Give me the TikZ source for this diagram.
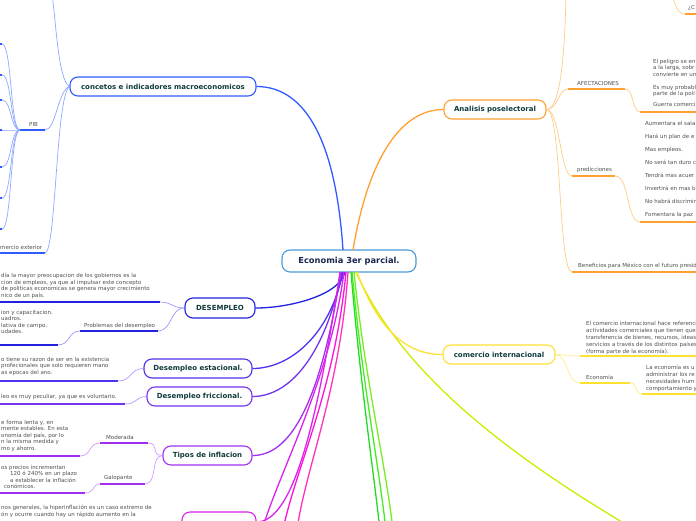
\documentclass[tikz,border=0pt]{standalone}
\usepackage{fontspec}
\setmainfont{DejaVu Sans}
\definecolor{ttext}{HTML}{0F3B3B}
\definecolor{ctext}{HTML}{1A2550}
\definecolor{tgrey}{HTML}{505050}
\definecolor{cborder}{HTML}{4A9AD8}
\definecolor{cblue}{HTML}{2F5BFF}
\definecolor{lblue}{HTML}{8FA8FF}
\definecolor{cdes}{HTML}{2222E0}
\definecolor{ldes}{HTML}{9A9AFF}
\definecolor{cest}{HTML}{4A33EE}
\definecolor{cfri}{HTML}{7433EE}
\definecolor{lpur}{HTML}{B89AFF}
\definecolor{ctip}{HTML}{A030F0}
\definecolor{ltip}{HTML}{D49AFF}
\definecolor{cmag}{HTML}{DD22EE}
\definecolor{cmag2}{HTML}{FF11DD}
\definecolor{cmag3}{HTML}{FF33BB}
\definecolor{cgr1}{HTML}{22DD22}
\definecolor{cgr2}{HTML}{44EE22}
\definecolor{cgr3}{HTML}{77EE22}
\definecolor{cyg}{HTML}{CCEE00}
\definecolor{cyel}{HTML}{FFE033}
\definecolor{lyel}{HTML}{FFEE88}
\definecolor{cora}{HTML}{FFA030}
\definecolor{lora}{HTML}{FFCC88}
\begin{document}
\begin{tikzpicture}[x=1pt,y=-1pt,
  tbox/.style={draw=#1, rounded corners=8pt, line width=1.1pt, fill=white, text=ttext,
    font=\fontsize{7}{8}\selectfont\bfseries, inner sep=0pt, minimum height=19pt},
  para/.style={font=\fontsize{5.5}{6.5}\selectfont, text=tgrey, inner sep=0pt, align=left, anchor=north west},
  lbl/.style={font=\fontsize{5.5}{6.5}\selectfont, text=tgrey, inner sep=0pt, anchor=west},
  mainline/.style={draw=#1, line width=1.3pt},
  subline/.style={draw=#1, line width=0.7pt},
  uline/.style={draw=#1, line width=1.5pt}]
\useasboundingbox (0,0) rectangle (696,520);
\clip (0,0) rectangle (696,520);
\fill[white] (0,0) rectangle (696,520);

% ---------- central and branch boxes ----------
\node[tbox=cborder, text=ctext, minimum width=134pt, minimum height=22pt, font=\fontsize{8.3}{9}\selectfont\bfseries] (center) at (349,261) {Economia 3er parcial.};
\node[tbox=cblue, minimum width=186pt] (concetos) at (163,86.5) {concetos e indicadores macroeconomicos};
\node[tbox=cdes, minimum width=70pt, minimum height=20pt] (desempleo) at (220,308) {DESEMPLEO};
\node[tbox=cest, minimum width=108pt] (estacional) at (198,368.5) {Desempleo estacional.};
\node[tbox=cfri, minimum width=105pt] (friccional) at (199.5,396.5) {Desempleo friccional.};
\node[tbox=ctip, minimum width=89pt] (tipos) at (207.5,455.5) {Tipos de inflacion};
\node[tbox=cmag, minimum width=74pt, minimum height=20pt] (hiper) at (219,522) {};
\node[tbox=cora, minimum width=102pt] (analisis) at (495,109.5) {Analisis poselectoral};
\node[tbox=cyel, minimum width=112pt] (comercio) at (499,354.5) {comercio internacional};

% ---------- connectors from the centre ----------
\coordinate (ct1) at (343,250);
\coordinate (ct2) at (353,250);
\draw[mainline=cblue] (ct1) .. controls (335,130) and (300,86.5) .. (concetos.east);
\draw[mainline=cora] (ct2) .. controls (368,160) and (400,109.5) .. (analisis.west);
\coordinate (cb1) at (345,272);
\coordinate (cb2) at (343,272);
\coordinate (cb3) at (342,272);
\coordinate (cb4) at (341,272);
\coordinate (cb5) at (340,272);
\coordinate (cb6) at (344,272);
\coordinate (cb7) at (346,272);
\coordinate (cb8) at (348,272);
\coordinate (cb9) at (351,272);
\coordinate (cb10) at (352,272);
\coordinate (cb11) at (354,272);
\coordinate (cb12) at (356,272);
\coordinate (cb13) at (357,272);
\draw[mainline=cdes] (cb1) .. controls (340,295) and (290,308) .. (desempleo.east);
\draw[mainline=cest] (cb2) .. controls (330,335) and (290,368.5) .. (estacional.east);
\draw[mainline=cfri] (cb3) .. controls (325,355) and (290,396.5) .. (friccional.east);
\draw[mainline=ctip] (cb4) .. controls (320,405) and (290,455.5) .. (tipos.east);
\draw[mainline=cmag] (cb5) .. controls (315,440) and (290,522) .. (hiper.east);
\coordinate (m1) at (262,530);
\coordinate (m2) at (283,530);
\coordinate (m3) at (297,530);
\draw[mainline=cmag] (cb6) .. controls (330,380) and (280,470) .. (m1);
\draw[mainline=cmag2] (cb7) .. controls (335,390) and (295,470) .. (m2);
\draw[mainline=cmag3] (cb8) .. controls (340,390) and (305,470) .. (m3);
\coordinate (g1) at (380,530);
\coordinate (g2) at (386,530);
\coordinate (g3) at (393,530);
\draw[mainline=cgr1] (cb9) .. controls (360,380) and (372,460) .. (g1);
\draw[mainline=cgr2] (cb10) .. controls (362,380) and (378,460) .. (g2);
\draw[mainline=cgr3] (cb11) .. controls (365,380) and (385,460) .. (g3);
\coordinate (yg) at (632,528);
\draw[mainline=cyg] (cb12) .. controls (400,370) and (500,450) .. (yg);
\draw[mainline=cyel] (cb13) .. controls (380,335) and (410,354.5) .. (comercio.west);

% ---------- concetos branch ----------
\coordinate (topL) at (52,-5);
\draw[subline=lblue] (concetos.west) .. controls (58,80) and (56,20) .. (topL);
\coordinate (pibR) at (45,130);
\coordinate (pibL) at (20,130);
\node[lbl] (pib) at (29,124) {PIB};
\draw[subline=lblue] (concetos.west) .. controls (58,90) and (56,130) .. (pibR);
\draw[uline=cblue] (pibL) -- (pibR);
\foreach \yy in {44,75,100,130,167,198,229}{
  \coordinate (pc\yy) at (2,\yy);
  \draw[subline=lblue] (pibL) .. controls (10,130) and (12,\yy) .. (pc\yy);
  \draw[uline=cblue] (pc\yy) -- ++(-12,0);
}
\coordinate (ceR) at (45,253);
\coordinate (ceL) at (-5,253);
\node[lbl] (comext) at (0,247) {mercio exterior};
\draw[subline=lblue] (concetos.west) .. controls (56,95) and (56,253) .. (ceR);
\draw[uline=cblue] (ceL) -- (ceR);

% ---------- DESEMPLEO branch ----------
\coordinate (d1R) at (160,302);
\coordinate (d1L) at (-5,302);
\node[para] (d1txt) at (1,273) {día la mayor preocupacion de los gobiernos es la\\cion de empleos, ya que al impulsar este concepto\\de politicas economicas se genera mayor crecimiento\\nico de un país.};
\draw[subline=ldes] (desempleo.west) .. controls (172,308) and (172,302) .. (d1R);
\draw[uline=cdes] (d1L) -- (d1R);
\coordinate (prR) at (158,331);
\coordinate (prL) at (80,331);
\node[lbl] (prob) at (84,326) {Problemas del desempleo};
\draw[subline=ldes] (desempleo.west) .. controls (170,308) and (172,331) .. (prR);
\draw[uline=cdes] (prL) -- (prR);
\coordinate (p2R) at (58,345);
\coordinate (p2L) at (-5,345);
\node[para] (p2txt) at (1,310) {ion y capacitacion.\\uadros.\\lativa de campo.\\udades.};
\draw[subline=ldes] (prL) .. controls (68,331) and (70,345) .. (p2R);
\draw[uline=cdes] (p2L) -- (p2R);

% ---------- estacional ----------
\coordinate (eR) at (118,381);
\coordinate (eL) at (-5,381);
\node[para] (etxt) at (1,357) {o tiene su razon de ser en la existencia\\profecionales que solo requieren mano\\as epocas del ano.};
\draw[subline=lpur] (estacional.west) .. controls (130,368.5) and (132,381) .. (eR);
\draw[uline=cest] (eL) -- (eR);

% ---------- friccional ----------
\coordinate (fR) at (125,404);
\coordinate (fL) at (-5,404);
\node[para] (ftxt) at (1,394) {leo es muy peculiar, ya que es voluntario.};
\draw[subline=lpur] (friccional.west) .. controls (136,396.5) and (137,404) .. (fR);
\draw[uline=cfri] (fL) -- (fR);

% ---------- tipos de inflacion ----------
\coordinate (moR) at (148,443);
\coordinate (moL) at (100,443);
\node[lbl] (mod) at (106,437) {Moderada};
\draw[subline=ltip] (tipos.west) .. controls (150,455.5) and (160,443) .. (moR);
\draw[uline=ctip] (moL) -- (moR);
\coordinate (m2R) at (80,456);
\coordinate (m2L) at (-5,456);
\node[para] (motxt) at (1,420) {e forma lenta y, en\\mente estables. En esta\\onomía del país, por lo\\n la misma medida y\\mo y ahorro.};
\draw[subline=ltip] (moL) .. controls (88,443) and (92,456) .. (m2R);
\draw[uline=ctip] (m2L) -- (m2R);
\coordinate (gaR) at (145,484);
\coordinate (gaL) at (100,484);
\node[lbl] (gal) at (104,478) {Galopante};
\draw[subline=ltip] (tipos.west) .. controls (150,455.5) and (158,484) .. (gaR);
\draw[uline=ctip] (gaL) -- (gaR);
\coordinate (g2R) at (85,493);
\coordinate (g2L) at (-5,493);
\node[para] (gatxt) at (1,465) {os precios incrementan\\\hspace*{9pt}120 ó 240\% en un plazo\\\hspace*{9pt}a establecer la inflación\\\hspace*{3pt}conómicos.};
\draw[subline=ltip] (gaL) .. controls (92,484) and (95,493) .. (g2R);
\draw[uline=ctip] (g2L) -- (g2R);

% ---------- hiperinflacion text ----------
\node[para] (htxt) at (1,505) {nos generales, la hiperinflación es un caso extremo de\\ón y ocurre cuando hay un rápido aumento en la};

% ---------- Analisis poselectoral ----------
\coordinate (aTop) at (566,-5);
\draw[subline=lora] (analisis.east) .. controls (562,109.5) and (565,40) .. (aTop);
\coordinate (cTop) at (673,-3);
\coordinate (cqL) at (685,14);
\coordinate (cqR) at (700,14);
\draw[subline=lora] (cTop) .. controls (676,10) and (680,14) .. (cqL);
\draw[uline=cora] (cqL) -- (cqR);
\node[lbl] (cq) at (688,8) {¿C};
% AFECTACIONES
\coordinate (afL) at (568,89);
\coordinate (afR) at (625,89);
\node[lbl] (afe) at (577,83) {AFECTACIONES};
\draw[subline=lora] (analisis.east) .. controls (558,109.5) and (558,89) .. (afL);
\draw[uline=cora] (afL) -- (afR);
\coordinate (a2L) at (640,112);
\coordinate (a2R) at (700,112);
\node[para] (aftxt) at (653,59) {El peligro se en\\a la larga, sobr\\convierte en un\\[6.5pt]Es muy probabl\\parte de la polí\\[4pt]Guerra comerci};
\draw[subline=lora] (afR) .. controls (634,89) and (632,112) .. (a2L);
\draw[uline=cora] (a2L) -- (a2R);
% predicciones
\coordinate (prdL) at (572,176);
\coordinate (prdR) at (615,176);
\node[lbl] (prd) at (577,170) {predicciones};
\draw[subline=lora] (analisis.east) .. controls (560,109.5) and (560,176) .. (prdL);
\draw[uline=cora] (prdL) -- (prdR);
\coordinate (p3L) at (640,222);
\coordinate (p3R) at (700,222);
\node[para] (prdtxt) at (645,121) {Aumentara el sala\\[6.5pt]Hará un plan de e\\[6.5pt]Mas empleos.\\[6.5pt]No será tan duro c\\[6.5pt]Tendrá mas acuer\\[6.5pt]Invertirá en mas b\\[6.5pt]No habrá discrimin\\[6.5pt]Fomentara la paz};
\draw[subline=lora] (prdR) .. controls (630,176) and (626,222) .. (p3L);
\draw[uline=cora] (p3L) -- (p3R);
% Beneficios
\coordinate (beL) at (572,272);
\coordinate (beR) at (700,272);
\node[lbl] (ben) at (578,266) {Beneficios para México con el futuro presid};
\draw[subline=lora] (analisis.east) .. controls (562,109.5) and (558,272) .. (beL);
\draw[uline=cora] (beL) -- (beR);

% ---------- comercio internacional ----------
\coordinate (ciL) at (580,356);
\coordinate (ciR) at (700,356);
\node[para, font=\fontsize{5.5}{7}\selectfont] (citxt) at (586,321) {El comercio internacional hace referenci\\actividades comerciales que tienen que\\transferencia de bienes, recursos, ideas\\servicios a través de los distintos países\\(forma parte de la economía).};
\draw[subline=lyel] (comercio.east) .. controls (565,354.5) and (570,356) .. (ciL);
\draw[uline=cyel] (ciL) -- (ciR);
\coordinate (ecL) at (580,383);
\coordinate (ecR) at (630,383);
\node[lbl] (eco) at (586,377) {Economía};
\draw[subline=lyel] (comercio.east) .. controls (568,354.5) and (566,383) .. (ecL);
\draw[uline=cyel] (ecL) -- (ecR);
\coordinate (e2L) at (642,394);
\coordinate (e2R) at (700,394);
\node[para, font=\fontsize{5.5}{7}\selectfont] (ectxt) at (646,365) {La economía es u\\administrar los re\\necesidades hum\\comportamiento y};
\draw[subline=lyel] (ecR) .. controls (638,383) and (634,394) .. (e2L);
\draw[uline=cyel] (e2L) -- (e2R);
\end{tikzpicture}
\end{document}
